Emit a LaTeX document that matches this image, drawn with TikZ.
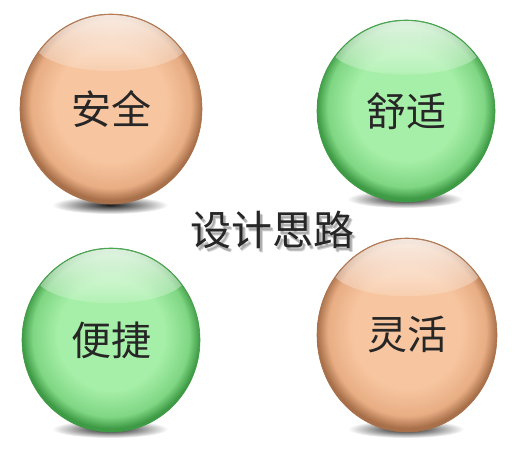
\documentclass[tikz,border=0pt]{standalone}
\usepackage{fontspec}
\newfontfamily\cjk{Noto Sans CJK SC}
\usepackage{tikz}
\usetikzlibrary{fadings}

\definecolor{orgA}{HTML}{F7C6A1}
\definecolor{orgB}{HTML}{E8AD83}
\definecolor{orgC}{HTML}{A8704A}
\definecolor{grnA}{HTML}{A6EFA8}
\definecolor{grnB}{HTML}{7FD683}
\definecolor{grnC}{HTML}{3E9A45}

\pgfdeclareradialshading{orangeball}{\pgfpoint{0bp}{2bp}}{color(0bp)=(orgA);color(15bp)=(orgA);color(22bp)=(orgB);color(25bp)=(orgC);color(50bp)=(orgC)}
\pgfdeclareradialshading{greenball}{\pgfpoint{0bp}{2bp}}{color(0bp)=(grnA);color(15bp)=(grnA);color(22bp)=(grnB);color(25bp)=(grnC);color(50bp)=(grnC)}
\tikzfading[name=glossfade, top color=transparent!20, bottom color=transparent!85]

\tikzset{
    balltext/.style={font=\cjk\fontsize{40}{40}\selectfont,text=black!85,inner sep=0pt},
    titletext/.style={font=\cjk\fontsize{41}{41}\selectfont,inner sep=0pt}
}

\begin{document}
\begin{tikzpicture}[x=1pt,y=1pt]
    \useasboundingbox (0,0) rectangle (530,449);
    % the four balls with their shadows
    \foreach \cx/\cy/\rx/\ry/\sy/\ball/\rim/\word/\name in {
        111/340/91/95/244/orangeball/orgC/安全/anquan,
        406/338/89/91/250/greenball/grnC/舒适/shushi,
        111/109/89/92/20/greenball/grnC/便捷/bianjie,
        407/114/90/97/20/orangeball/orgC/灵活/linghuo}
    {
        \shade[inner color=black!90,outer color=white] (\cx-1,\sy) ellipse [x radius=58,y radius=9];
        \shade[shading=\ball,draw=\rim,line width=0.6pt] (\cx,\cy) ellipse [x radius=\rx,y radius=\ry];
        \begin{scope}
            \clip (\cx,\cy) ellipse [x radius=\rx-1,y radius=\ry-1];
            \fill[white,path fading=glossfade] (\cx,\cy+0.7*\ry) ellipse [x radius=0.85*\rx,y radius=0.3*\ry];
        \end{scope}
        \node[balltext] (\name) at (\cx,\cy) {\word};
    }
    % title with soft shadow
    \foreach \dx/\dy [count=\i] in {2/-3,3/-4}
        \node[titletext,text=black,opacity=0.18] (titleshadow\i) at (272+\dx,219+\dy) {设计思路};
    \node[titletext,text=black!85] (title) at (272,219) {设计思路};
\end{tikzpicture}
\end{document}
